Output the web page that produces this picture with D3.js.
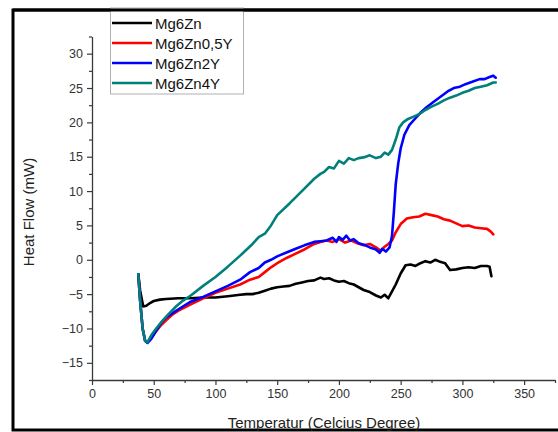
<!DOCTYPE html>
<html>
<head>
<meta charset="utf-8">
<script src="https://cdn.jsdelivr.net/npm/d3@7"></script>
<style>
  body { margin: 0; background: #fff; }
  svg { display: block; font-family: Arial, "Liberation Sans", sans-serif; }
</style>
</head>
<body>
<div class="chart"></div>
<script>
// series names + colours
const seriesNames = ["Mg6Zn", "Mg6Zn0,5Y", "Mg6Zn2Y", "Mg6Zn4Y"];
const seriesColors = ["#000000", "#ff0000", "#0000ff", "#00807a"];

// temperatures (x) and heat flow (y)
const tempZn = [37.5, 39, 41.5, 44, 47, 50, 55, 60, 70, 80, 90, 100, 110, 120, 125, 130, 135, 140, 145, 150, 155, 160, 165, 170, 175, 180, 185, 188, 192, 196, 200, 204, 208, 212, 216, 220, 225, 230, 234, 237, 240, 243, 246, 250, 254, 258, 262, 266, 270, 274, 278, 282, 286, 290, 295, 300, 305, 310, 315, 320, 322, 323.5];
const flowZn = [-2.1, -4.5, -6.8, -6.7, -6.3, -6.0, -5.8, -5.7, -5.6, -5.6, -5.5, -5.5, -5.3, -5.1, -5.0, -5.0, -4.8, -4.5, -4.2, -4.0, -3.9, -3.8, -3.5, -3.3, -3.1, -3.0, -2.6, -2.8, -2.7, -3.0, -3.2, -3.1, -3.4, -3.6, -4.0, -4.4, -4.7, -5.2, -5.5, -5.1, -5.6, -4.6, -3.6, -2.0, -0.8, -0.7, -0.9, -0.5, -0.2, -0.4, 0.0, -0.3, -0.5, -1.5, -1.4, -1.2, -1.1, -1.2, -0.9, -0.9, -1.0, -2.4];

const temp05Y = [37.5, 39, 41, 43, 45, 48, 52, 56, 60, 65, 70, 80, 90, 100, 110, 120, 128, 135, 140, 145, 150, 158, 165, 172, 180, 185, 190, 195, 200, 205, 210, 215, 220, 225, 230, 234, 237, 240, 243, 246, 250, 255, 260, 265, 270, 275, 280, 285, 290, 295, 300, 305, 310, 315, 320, 323, 325];
const flow05Y = [-2.1, -6, -10, -11.8, -12.0, -11.4, -10.4, -9.5, -8.8, -8.0, -7.4, -6.5, -5.6, -4.8, -4.2, -3.6, -2.9, -2.5, -1.8, -1.1, -0.5, 0.3, 0.9, 1.5, 2.3, 2.6, 2.8, 2.6, 3.0, 2.5, 2.8, 2.4, 2.1, 2.3, 1.8, 1.3, 1.9, 2.3, 2.8, 4.0, 5.2, 6.0, 6.2, 6.3, 6.7, 6.5, 6.3, 5.9, 5.7, 5.3, 4.9, 5.0, 4.7, 4.6, 4.5, 4.1, 3.7];

const temp2Y = [37.5, 39, 41, 43, 45, 48, 52, 56, 60, 65, 70, 80, 90, 100, 110, 120, 128, 135, 140, 145, 150, 158, 165, 172, 180, 185, 190, 195, 198, 200, 203, 206, 209, 212, 216, 220, 225, 230, 233, 235, 238, 241, 243, 244.5, 246, 248, 250, 253, 257, 262, 266, 271, 276, 282, 288, 293, 298, 303, 308, 314, 318, 322, 325, 327];
const flow2Y = [-2.1, -6, -10, -11.8, -12.1, -11.5, -10.3, -9.2, -8.4, -7.8, -7.2, -6.1, -5.4, -4.6, -3.8, -2.9, -1.8, -1.2, -0.4, 0.0, 0.5, 1.1, 1.6, 2.1, 2.6, 2.7, 2.8, 3.2, 2.6, 3.3, 2.9, 3.5, 2.8, 3.0, 2.4, 2.2, 1.8, 1.5, 1.0, 1.6, 1.2, 1.8, 3.5, 7.0, 11.0, 14.0, 16.2, 18.2, 19.6, 20.6, 21.4, 22.2, 22.9, 23.7, 24.5, 25.0, 25.2, 25.6, 25.9, 26.3, 26.3, 26.6, 26.8, 26.5];

const temp4Y = [37.5, 39, 41, 43, 45, 48, 52, 57, 62, 68, 74, 80, 90, 100, 110, 120, 130, 135, 140, 145, 150, 160, 170, 180, 185, 188, 192, 196, 200, 204, 208, 212, 216, 220, 225, 230, 234, 237, 240, 243, 246, 249, 252, 256, 260, 265, 270, 275, 280, 285, 290, 295, 300, 305, 310, 315, 320, 325, 327];
const flow4Y = [-2.1, -6, -10, -11.8, -12.0, -11.0, -10.0, -8.9, -7.9, -6.8, -5.9, -5.2, -3.8, -2.5, -1.0, 0.6, 2.3, 3.3, 3.8, 5.0, 6.5, 8.2, 10.0, 11.8, 12.5, 12.8, 13.5, 13.3, 14.4, 14.0, 14.8, 14.5, 14.8, 14.9, 15.2, 14.8, 15.0, 15.6, 15.3, 16.0, 17.5, 19.3, 20.0, 20.5, 20.8, 21.2, 21.8, 22.3, 22.7, 23.2, 23.6, 23.9, 24.3, 24.6, 25.0, 25.2, 25.4, 25.8, 25.8];

// axis ticks
const xTicks = [0, 50, 100, 150, 200, 250, 300, 350];
const yTicks = [-15, -10, -5, 0, 5, 10, 15, 20, 25, 30];

const allTemps = [tempZn, temp05Y, temp2Y, temp4Y];
const allFlows = [flowZn, flow05Y, flow2Y, flow4Y];

const width = 558, height = 432;

const svg = d3.select(".chart").append("svg")
    .attr("width", width)
    .attr("height", height);

const x = d3.scaleLinear().domain([0, 375]).range([92, 555]);
const y = d3.scaleLinear().domain([-17.5, 32.5]).range([380, 36.5]);

//outer frame
svg.append("rect")
    .attr("x", 13).attr("y", 10)
    .attr("width", 570).attr("height", 420)
    .attr("fill", "none")
    .attr("stroke", "#000")
    .attr("stroke-width", 3);

const axisColor = "#3a3a3a";

// minor ticks first (no labels)
const xMinor = d3.range(25, 376, 50);
const yMinor = d3.range(-17.5, 33, 5);

svg.append("g")
    .attr("transform", "translate(0,380)")
    .call(d3.axisBottom(x).tickValues(xMinor).tickSize(3).tickFormat("").tickSizeOuter(0))
    .call(g => g.select(".domain").remove());

svg.append("g")
    .attr("transform", "translate(92,0)")
    .call(d3.axisLeft(y).tickValues(yMinor).tickSize(3).tickFormat("").tickSizeOuter(0))
    .call(g => g.select(".domain").remove());

// main axes
const xAxis = svg.append("g")
    .attr("transform", "translate(0,380)")
    .call(d3.axisBottom(x).tickValues(xTicks).tickSize(5).tickPadding(4).tickSizeOuter(0));

const yAxis = svg.append("g")
    .attr("transform", "translate(92,0)")
    .call(d3.axisLeft(y).tickValues(yTicks).tickSize(5).tickPadding(4).tickSizeOuter(0));

svg.selectAll(".tick line").attr("stroke", axisColor).attr("stroke-width", 1.2);
[xAxis, yAxis].forEach(a => {
    a.select(".domain").attr("stroke", axisColor).attr("stroke-width", 1.3);
    a.selectAll("text")
        .attr("fill", "#333")
        .style("font-size", "12.5px")
        .style("font-family", "Arial, 'Liberation Sans', sans-serif");
});

// axis titles
svg.append("text")
    .attr("transform", "translate(34,212) rotate(-90)")
    .attr("text-anchor", "middle")
    .attr("fill", "#222")
    .style("font-size", "15px")
    .text("Heat Flow (mW)");

svg.append("text")
    .attr("x", 324).attr("y", 428)
    .attr("text-anchor", "middle")
    .attr("fill", "#222")
    .style("font-size", "15px")
    .text("Temperatur (Celcius Degree)");

// the curves
const line = d3.line()
    .x(d => x(d[0]))
    .y(d => y(d[1]));

const plot = svg.append("g");
seriesNames.forEach((name, i) => {
    const pts = allTemps[i].map((t, j) => [t, allFlows[i][j]]);
    plot.append("path")
        .datum(pts)
        .attr("d", line)
        .attr("fill", "none")
        .attr("stroke", seriesColors[i])
        .attr("stroke-width", 2.6)
        .attr("stroke-linejoin", "round")
        .attr("stroke-linecap", "round");
});

// legend
const legend = svg.append("g");
legend.append("rect")
    .attr("x", 110.5).attr("y", 8)
    .attr("width", 133).attr("height", 86)
    .attr("fill", "#fff")
    .attr("stroke", "#b0b0b0")
    .attr("stroke-width", 1);

// redraw top border over legend
svg.append("line")
    .attr("x1", 13).attr("x2", 558)
    .attr("y1", 10).attr("y2", 10)
    .attr("stroke", "#000").attr("stroke-width", 3);

const rowY = [23, 43, 63, 83];
seriesNames.forEach((name, i) => {
    legend.append("line")
        .attr("x1", 112).attr("x2", 152)
        .attr("y1", rowY[i]).attr("y2", rowY[i])
        .attr("stroke", seriesColors[i])
        .attr("stroke-width", 2.6);
    legend.append("text")
        .attr("x", 155).attr("y", rowY[i] + 5.5)
        .attr("fill", "#111")
        .style("font-size", "15px")
        .text(name);
});
</script>
</body>
</html>
